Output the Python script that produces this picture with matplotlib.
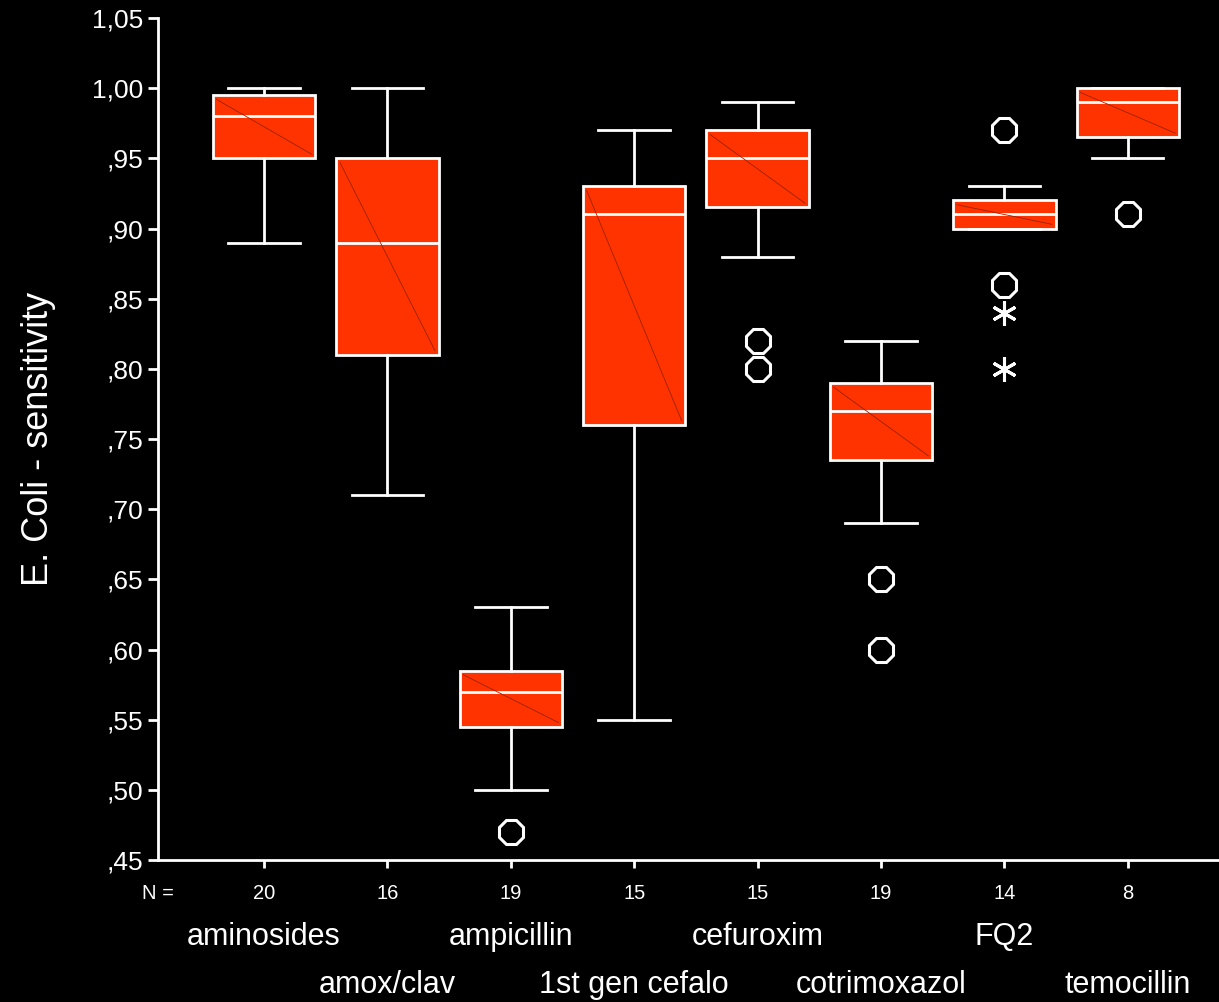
import matplotlib
matplotlib.use('Agg')
import matplotlib.pyplot as plt

plt.rcParams['font.family'] = ['Liberation Sans', 'DejaVu Sans']

# data
drugs = ['aminosides', 'amox/clav', 'ampicillin', '1st gen cefalo',
         'cefuroxim', 'cotrimoxazol', 'FQ2', 'temocillin']
counts = [20, 16, 19, 15, 15, 19, 14, 8]
q1 = [0.950, 0.810, 0.545, 0.760, 0.915, 0.735, 0.900, 0.965]
med = [0.980, 0.890, 0.570, 0.910, 0.950, 0.770, 0.910, 0.990]
q3 = [0.995, 0.950, 0.585, 0.930, 0.970, 0.790, 0.920, 1.000]
wlo = [0.890, 0.710, 0.500, 0.550, 0.880, 0.690, 0.900, 0.950]
whi = [1.000, 1.000, 0.630, 0.970, 0.990, 0.820, 0.930, 1.000]
outliers = [[], [], [0.47], [], [0.82, 0.80], [0.65, 0.60], [0.97, 0.86], [0.91]]
extremes = [[], [], [], [], [], [], [0.84, 0.80], []]
yticks = [0.45, 0.50, 0.55, 0.60, 0.65, 0.70, 0.75, 0.80, 0.85, 0.90, 0.95, 1.00, 1.05]

fig = plt.figure(figsize=(12.19, 10.02), dpi=100, facecolor='black')
ax = fig.add_axes([0.1296, 0.1417, 0.8704, 0.8403], facecolor='black')

pos = list(range(1, len(drugs) + 1))
stats = []
for i in range(len(drugs)):
    stats.append(dict(q1=q1[i], med=med[i], q3=q3[i], whislo=wlo[i],
                      whishi=whi[i], fliers=outliers[i]))

w = 0.83
ax.bxp(stats, positions=pos, widths=w, capwidths=0.58, patch_artist=True,
       boxprops=dict(facecolor='#ff3300', edgecolor='white', linewidth=2),
       medianprops=dict(color='white', linewidth=2),
       whiskerprops=dict(color='white', linewidth=2),
       capprops=dict(color='white', linewidth=2),
       flierprops=dict(marker='8', markersize=18, markerfacecolor='none',
                       markeredgecolor='white', markeredgewidth=2.2))

for i, p in enumerate(pos):
    # faint diagonal inside each box
    ax.plot([p - w / 2 + 0.03, p + w / 2 - 0.03], [q3[i] - 0.003, q1[i] + 0.003],
            color='#992200', linewidth=0.6, zorder=3)
    for v in extremes[i]:
        ax.plot(p, v, marker=(6, 2, 0), markersize=18, color='white',
                markeredgewidth=2.2, linestyle='none', zorder=4)

ax.set_xlim(0.14, 8.74)
ax.set_ylim(0.45, 1.05)
ax.set_yticks(yticks)
ax.set_yticklabels([('%.2f' % t).replace('0.', ',').replace('1.', '1,') for t in yticks])
ax.set_xticks(pos)
ax.set_xticklabels([])

for s in ['top', 'right']:
    ax.spines[s].set_visible(False)
for s in ['left', 'bottom']:
    ax.spines[s].set_color('white')
    ax.spines[s].set_linewidth(2)
ax.tick_params(colors='white', width=2, length=7, labelsize=19)
ax.tick_params(axis='x', length=6)

ax.set_ylabel('E. Coli - sensitivity', color='white', fontsize=26, labelpad=26)

for i, p in enumerate(pos):
    ax.text(p, -0.04, str(counts[i]), transform=ax.get_xaxis_transform(),
            ha='center', va='center', color='white', fontsize=14.5)
    ypos = -0.091 if i % 2 == 0 else -0.148
    ax.text(p, ypos, drugs[i], transform=ax.get_xaxis_transform(),
            ha='center', va='center', color='white', fontsize=22)
ax.text(0.14, -0.04, 'N =', transform=ax.get_xaxis_transform(),
        ha='center', va='center', color='white', fontsize=14.5)

fig.savefig('out.png', dpi=100, facecolor='black')
